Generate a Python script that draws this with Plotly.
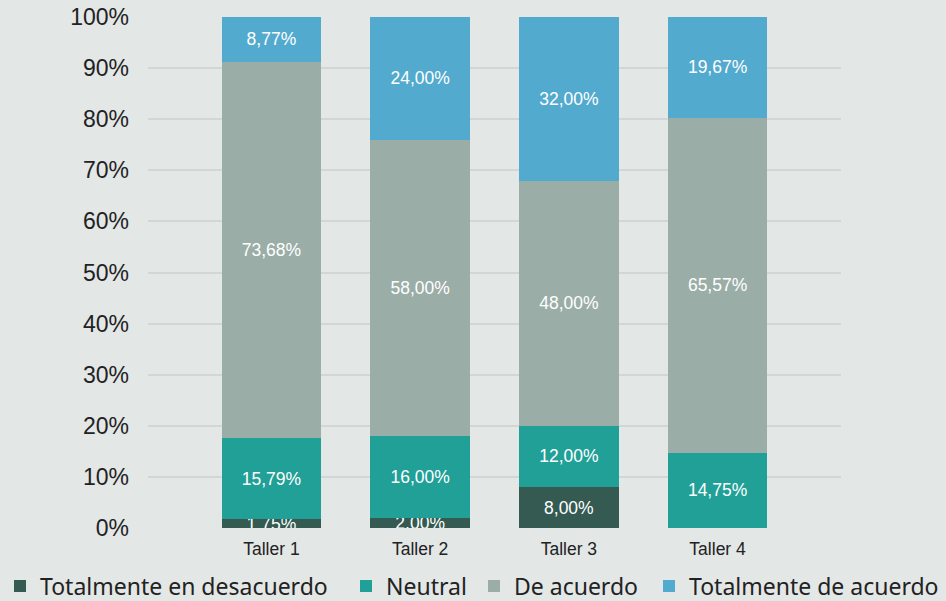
import plotly.graph_objects as go

categories = ["Taller 1", "Taller 2", "Taller 3", "Taller 4"]
series_names = ["Totalmente en desacuerdo", "Neutral", "De acuerdo", "Totalmente de acuerdo"]
totalmente_desacuerdo = [1.75, 2.00, 8.00, 0.0]
neutral = [15.79, 16.00, 12.00, 14.75]
de_acuerdo = [73.68, 58.00, 48.00, 65.57]
totalmente_acuerdo = [8.77, 24.00, 32.00, 19.67]
colors = ["#345a52", "#21a097", "#9bada7", "#52aace"]

y_ticks = list(range(0, 101, 10))
y_tick_labels = [f"{v}%" for v in y_ticks]

legend_ids = ["legend", "legend2", "legend3", "legend4"]
legend_x_px = [0, 346, 474, 649]

def fmt(v):
    return "" if v == 0 else f"{v:.2f}".replace(".", ",") + "%"

fig = go.Figure()
for name, vals, col, lg in zip(series_names,
                               [totalmente_desacuerdo, neutral, de_acuerdo, totalmente_acuerdo],
                               colors, legend_ids):
    fig.add_trace(go.Bar(
        name=name, x=categories, y=vals, marker_color=col, marker_line_width=0,
        text=[fmt(v) for v in vals], textposition="inside", insidetextanchor="middle",
        textfont=dict(family="Liberation Sans, Arial", size=17.5, color="white"),
        hoverinfo="skip", width=0.67, legend=lg,
    ))

legend_common = dict(orientation="h", xanchor="left", yanchor="middle",
                     xref="container", yref="container", y=(601 - 586) / 601,
                     font=dict(family="Noto Sans", size=23, color="#222"),
                     bgcolor="rgba(0,0,0,0)", borderwidth=0)
legend_layout = {lg: dict(legend_common, x=px / 946) for lg, px in zip(legend_ids, legend_x_px)}

fig.update_layout(
    barmode="stack",
    width=946, height=601,
    paper_bgcolor="#e3e7e6", plot_bgcolor="#e3e7e6",
    margin=dict(l=148, r=105, t=17, b=73, autoexpand=False),
    uniformtext=dict(minsize=17.5, mode="show"),
    xaxis=dict(range=[-0.83, 3.83], tickfont=dict(family="Liberation Sans, Arial", size=17.5, color="#222"),
               showgrid=False, zeroline=False, ticks="", showline=False, ticklabelstandoff=8),
    yaxis=dict(range=[0, 100], tickvals=y_ticks, ticktext=y_tick_labels,
               tickfont=dict(family="Liberation Sans, Arial", size=23, color="#222"),
               gridcolor="#d3d6d6", gridwidth=1.5, zeroline=False, ticks="", ticklabelstandoff=18),
    showlegend=True,
    **legend_layout,
)

fig.write_html("out.html", config={"displayModeBar": False},
               post_script="document.body.style.margin='0px';")
